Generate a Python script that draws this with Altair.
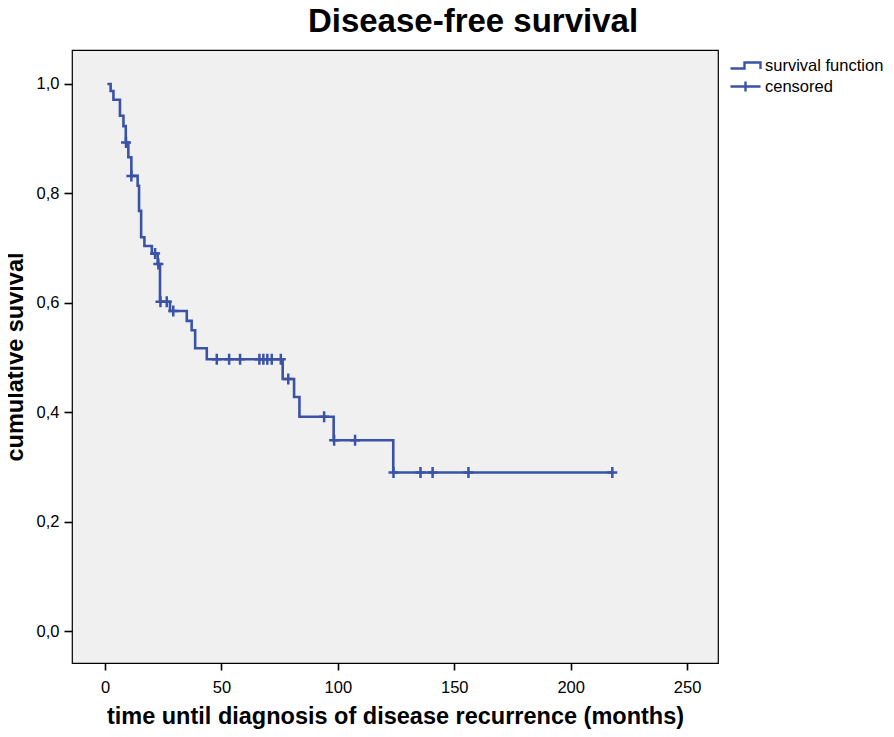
import altair as alt
import pandas as pd

# Kaplan-Meier step curve (time in months, cumulative survival after the step)
step_times = [1.0, 2.4, 3.6, 6.4, 7.9, 8.9, 10.0, 11.3, 14.0, 14.6, 15.5, 16.9,
              20.1, 22.6, 23.6, 27.9, 35.1, 37.2, 38.7, 43.7, 76.3, 81.2, 83.5,
              98.2, 123.8, 217.9]
step_surv = [1.0, 0.987, 0.971, 0.942, 0.923, 0.893, 0.866, 0.832, 0.814, 0.768,
             0.720, 0.704, 0.690, 0.671, 0.602, 0.585, 0.567, 0.550, 0.517, 0.497,
             0.461, 0.428, 0.392, 0.349, 0.290, 0.290]

# censored observations
cens_times = [9.0, 11.3, 21.5, 22.9, 23.8, 26.5, 29.3, 48.0, 53.3, 58.0, 66.3,
              68.0, 69.7, 71.6, 75.5, 78.7, 94.1, 98.4, 107.4, 123.9, 135.5,
              140.7, 156.1, 217.9]
cens_surv = [0.893, 0.832, 0.690, 0.671, 0.602, 0.602, 0.585, 0.497, 0.497,
             0.497, 0.497, 0.497, 0.497, 0.497, 0.497, 0.461, 0.392, 0.349,
             0.349, 0.290, 0.290, 0.290, 0.290, 0.290]

legend_labels = ["survival function", "censored"]
x_ticks = [0, 50, 100, 150, 200, 250]
y_ticks = [0.0, 0.2, 0.4, 0.6, 0.8, 1.0]

BLUE = "#3A53A6"
FONT = "Liberation Sans"
STEP_PATH = "M-1.5,0.3H-0.1V-0.3H1.5V0.35"
CROSS_PATH = "M-1.5,0H1.5M0,-0.5V0.5"
PLUS_PATH = "M-1,0H1M0,-1.1V1.1"

surv_df = pd.DataFrame({"time": step_times, "surv": step_surv})
cens_df = pd.DataFrame({"time": cens_times, "surv": cens_surv})
cens_df["series"] = "censored"

x_enc = alt.X(
    "time:Q",
    scale=alt.Scale(domain=[-14.2, 263.3], nice=False, zero=False),
    axis=alt.Axis(values=x_ticks, title="time until diagnosis of disease recurrence (months)",
                  labelFlush=False, grid=False),
)
y_enc = alt.Y(
    "surv:Q",
    scale=alt.Scale(domain=[-0.058, 1.062], nice=False, zero=False),
    axis=alt.Axis(values=y_ticks, title="cumulative suvival", grid=False,
                  labelExpr="replace(format(datum.value, '.1f'), '.', ',')"),
)

line = alt.Chart(surv_df).mark_line(
    interpolate="step-after", color=BLUE, strokeWidth=2.6
).encode(x=x_enc, y=y_enc)

points = alt.Chart(cens_df).mark_point(
    shape=PLUS_PATH, color=BLUE, strokeWidth=2.5, size=100, filled=False, opacity=1
).encode(x="time:Q", y="surv:Q")

leg_props = dict(title=None, orient="none", legendX=662, legendY=4,
                 labelFont=FONT, labelFontSize=16.5, labelColor="black",
                 symbolSize=400, symbolStrokeWidth=2.4, labelOffset=8,
                 rowPadding=1, padding=0, symbolOffset=0)

legend_layer = alt.Chart(cens_df).transform_filter("false").mark_point(
    filled=False, strokeWidth=2.4, opacity=1
).encode(
    x="time:Q",
    y="surv:Q",
    color=alt.Color("series:N", scale=alt.Scale(domain=legend_labels, range=[BLUE, BLUE]),
                    legend=alt.Legend(**leg_props)),
    shape=alt.Shape("series:N", scale=alt.Scale(domain=legend_labels, range=[STEP_PATH, CROSS_PATH]),
                    legend=alt.Legend(**leg_props)),
)

chart = alt.layer(line, points, legend_layer).properties(
    width=646,
    height=613,
    autosize=alt.AutoSizeParams(type="none"),
    padding={"left": 64, "top": 42, "right": 168, "bottom": 70},
    background="white",
    title=alt.TitleParams("Disease-free survival", font=FONT, fontSize=33, fontWeight="bold",
                          anchor="middle", dx=78, dy=33, offset=11, baseline="bottom", color="black"),
).configure_view(
    fill="#F0F0F0", stroke="black", strokeWidth=1.2
).configure_axis(
    grid=False,
    domain=False,
    tickColor="black",
    tickWidth=1.6,
    labelFont=FONT,
    labelFontSize=16.5,
    labelColor="black",
    titleFont=FONT,
    titleFontSize=23.5,
    titleFontWeight="bold",
    titleColor="black",
).configure_axisX(
    tickSize=7, labelPadding=9, titlePadding=9
).configure_axisY(
    tickSize=8, labelPadding=5, titlePadding=9
)

chart.save("out.html", embed_options={"renderer": "svg", "actions": False})
